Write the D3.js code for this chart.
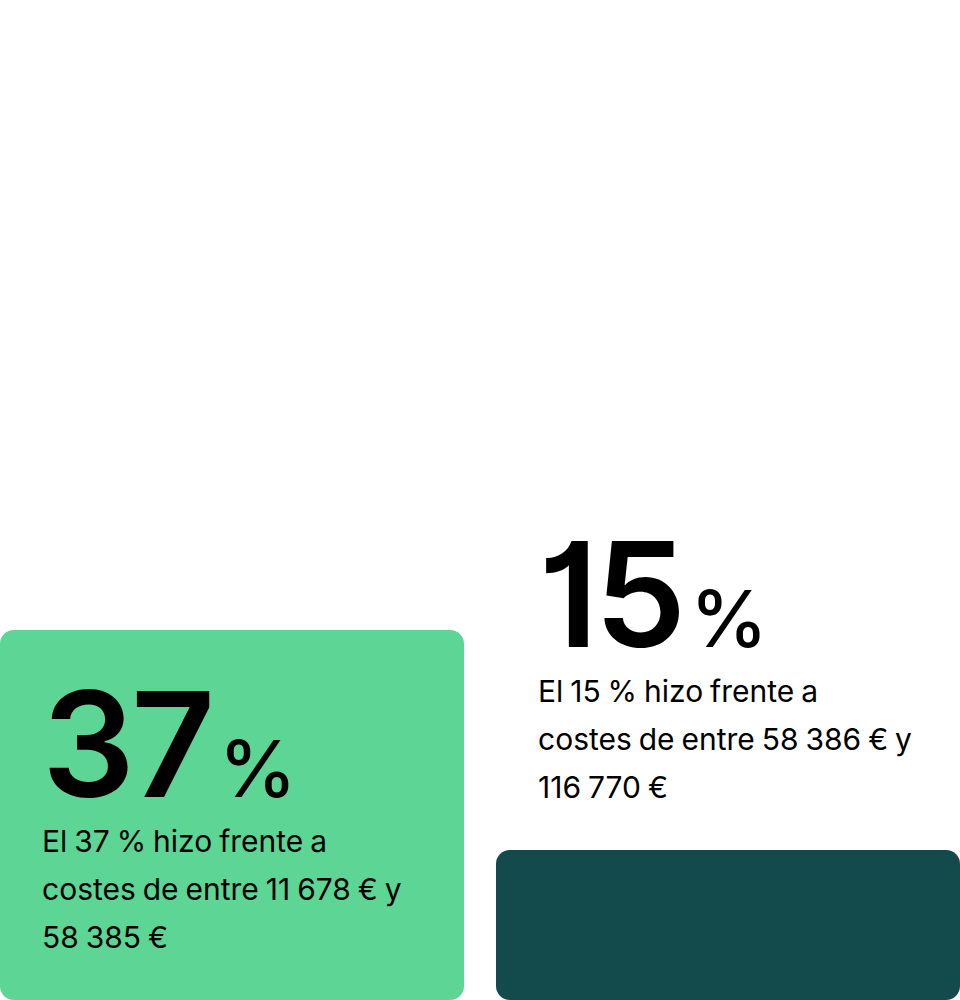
<!DOCTYPE html>
<html>
<head>
<meta charset="utf-8">
<script src="https://cdn.jsdelivr.net/npm/d3@7"></script>
<style>
  html, body { margin: 0; padding: 0; background: #ffffff; }
  svg { display: block; }
  text { font-family: Inter, "Noto Sans", sans-serif; fill: #000; }
  .bignum { font-feature-settings: "cv01" 1; }
</style>
</head>
<body>
<svg id="chart" width="960" height="1000"></svg>
<script>
// ---- data ----
const categories = ["11 678 € – 58 385 €", "58 386 € – 116 770 €"];
const values = [37, 15];
const descriptions = [
  ["El 37 % hizo frente a", "costes de entre 11 678 € y", "58 385 €"],
  ["El 15 % hizo frente a", "costes de entre 58 386 € y", "116 770 €"]
];
const colors = ["#5CD595", "#134A4C"];

// ---- layout ----
const W = 960, H = 1000;
const svg = d3.select("#chart");

const x = d3.scaleBand()
  .domain(categories)
  .range([0, W])
  .paddingInner(32 / 496)
  .paddingOuter(0);

const y = d3.scaleLinear().domain([0, 100]).range([H, 0]);

const data = categories.map((c, i) => ({ cat: c, value: values[i], desc: descriptions[i], color: colors[i] }));

const g = svg.append("g");

g.selectAll("rect.bar")
  .data(data)
  .join("rect")
  .attr("class", "bar")
  .attr("x", d => x(d.cat))
  .attr("y", d => y(d.value))
  .attr("width", x.bandwidth())
  .attr("height", d => y(0) - y(d.value))
  .attr("rx", 14)
  .attr("ry", 14)
  .attr("fill", d => d.color);

// label block metrics
const padX = 42;
const bigSize = 146;
const pctSize = 78;
const descSize = 30;
const lineH = 48;
const bigToDesc = 55;

const labels = g.selectAll("g.label")
  .data(data)
  .join("g")
  .attr("class", "label")
  .attr("transform", d => {
    const top = y(d.value);
    const h = y(0) - top;
    let bigBase;
    if (h >= 300) {
      bigBase = top + 167;           // inside the bar
    } else {
      const lastBase = top - 52;     // above the bar
      bigBase = lastBase - (d.desc.length - 1) * lineH - bigToDesc;
    }
    return `translate(${x(d.cat) + padX},${bigBase})`;
  });

const big = labels.append("text")
  .attr("class", "bignum")
  .attr("x", 0)
  .attr("y", 0)
  .attr("font-weight", 620);
big.append("tspan")
  .attr("font-size", bigSize)
  .attr("letter-spacing", -4)
  .text(d => d.value);
big.append("tspan")
  .attr("dx", 8)
  .attr("font-size", pctSize)
  .attr("font-weight", 500)
  .text("%");

labels.each(function(d) {
  const t = d3.select(this).append("text")
    .attr("font-size", descSize)
    .attr("font-weight", 400)
    .attr("word-spacing", -1.5);
  t.selectAll("tspan")
    .data(d.desc)
    .join("tspan")
    .attr("x", 0)
    .attr("y", (l, i) => bigToDesc + i * lineH)
    .text(l => l);
});
</script>
</body>
</html>
